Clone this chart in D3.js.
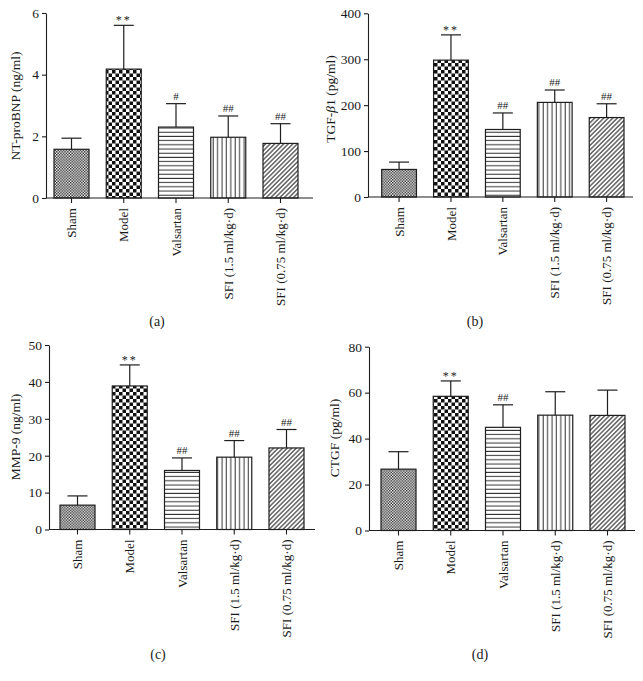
<!DOCTYPE html>
<html>
<head>
<meta charset="utf-8">
<script src="https://cdn.jsdelivr.net/npm/d3@7/dist/d3.min.js"></script>
<style>
  html, body { margin: 0; padding: 0; background: #fff; }
  svg { display: block; }
  text { font-family: "Liberation Serif", "DejaVu Serif", serif; fill: #1a1a1a; }
</style>
</head>
<body>
<svg id="chart" width="643" height="681"></svg>
<script>
// ---------- data ----------
const categories = ["Sham", "Model", "Valsartan", "SFI (1.5 ml/kg·d)", "SFI (0.75 ml/kg·d)"];

const ntproBNP      = [1.58, 4.18, 2.30, 1.97, 1.77];
const ntproBNPErr   = [0.36, 1.42, 0.76, 0.69, 0.64];
const ntproBNPMarks = ["", "**", "#", "##", "##"];
const ntproBNPTicks = [0, 2, 4, 6];

const tgfb1      = [60, 298, 147, 206, 173];
const tgfb1Err   = [16, 55, 36, 27, 30];
const tgfb1Marks = ["", "**", "##", "##", "##"];
const tgfb1Ticks = [0, 100, 200, 300, 400];

const mmp9      = [6.6, 38.9, 16.0, 19.6, 22.1];
const mmp9Err   = [2.5, 5.7, 3.4, 4.5, 5.0];
const mmp9Marks = ["", "**", "##", "##", "##"];
const mmp9Ticks = [0, 10, 20, 30, 40, 50];

const ctgf      = [26.7, 58.4, 44.9, 50.2, 50.1];
const ctgfErr   = [7.6, 6.7, 9.8, 10.2, 11.0];
const ctgfMarks = ["", "**", "##", "", ""];
const ctgfTicks = [0, 20, 40, 60, 80];

// ---------- layout ----------
const panels = [
  { values: ntproBNP, errs: ntproBNPErr, marks: ntproBNPMarks, ticks: ntproBNPTicks,
    title: [["NT-proBNP (ng/ml)", false]], label: "(a)",
    axisX: 46, axisEnd: 313, y0: 198, yTop: 13, barL: 54, barR: 298,
    titleX: 15, titleY: 106, labelX: 157, labelY: 326 },
  { values: tgfb1, errs: tgfb1Err, marks: tgfb1Marks, ticks: tgfb1Ticks,
    title: [["TGF-", false], ["β", true], ["1 (pg/ml)", false]], label: "(b)",
    axisX: 368, axisEnd: 633, y0: 197, yTop: 13.3, barL: 381.7, barR: 624,
    titleX: 330, titleY: 99, labelX: 475, labelY: 326 },
  { values: mmp9, errs: mmp9Err, marks: mmp9Marks, ticks: mmp9Ticks,
    title: [["MMP-9 (ng/ml)", false]], label: "(c)",
    axisX: 49, axisEnd: 315, y0: 529.5, yTop: 345, barL: 60, barR: 304,
    titleX: 15, titleY: 437, labelX: 158, labelY: 659 },
  { values: ctgf, errs: ctgfErr, marks: ctgfMarks, ticks: ctgfTicks,
    title: [["CTGF (pg/ml)", false]], label: "(d)",
    axisX: 369, axisEnd: 635, y0: 530.5, yTop: 346.7, barL: 381, barR: 625,
    titleX: 334, titleY: 438, labelX: 480, labelY: 659 }
];

const svg = d3.select("#chart");
const defs = svg.append("defs");
const INK = "#1e1e1e";

// fine checkerboard
(function () {
  const p = defs.append("pattern").attr("id", "pat0").attr("patternUnits", "userSpaceOnUse")
    .attr("width", 2.8).attr("height", 2.8);
  p.append("rect").attr("width", 2.8).attr("height", 2.8).attr("fill", "#fff");
  p.append("rect").attr("width", 1.4).attr("height", 1.4).attr("fill", "#222");
  p.append("rect").attr("x", 1.4).attr("y", 1.4).attr("width", 1.4).attr("height", 1.4).attr("fill", "#222");
})();
// coarse checkerboard
(function () {
  const s = 3.5;
  const p = defs.append("pattern").attr("id", "pat1").attr("patternUnits", "userSpaceOnUse")
    .attr("width", 2 * s).attr("height", 2 * s);
  p.append("rect").attr("width", 2 * s).attr("height", 2 * s).attr("fill", "#fff");
  p.append("rect").attr("width", s).attr("height", s).attr("fill", "#111");
  p.append("rect").attr("x", s).attr("y", s).attr("width", s).attr("height", s).attr("fill", "#111");
})();
// horizontal lines
(function () {
  const p = defs.append("pattern").attr("id", "pat2").attr("patternUnits", "userSpaceOnUse")
    .attr("width", 8).attr("height", 4.2);
  p.append("rect").attr("width", 8).attr("height", 4.2).attr("fill", "#fff");
  p.append("line").attr("x1", 0).attr("x2", 8).attr("y1", 2).attr("y2", 2)
    .attr("stroke", "#333").attr("stroke-width", 1);
})();
// vertical lines
(function () {
  const p = defs.append("pattern").attr("id", "pat3").attr("patternUnits", "userSpaceOnUse")
    .attr("width", 4.4).attr("height", 8);
  p.append("rect").attr("width", 4.4).attr("height", 8).attr("fill", "#fff");
  p.append("line").attr("y1", 0).attr("y2", 8).attr("x1", 2).attr("x2", 2)
    .attr("stroke", "#333").attr("stroke-width", 1);
})();
// diagonal lines
(function () {
  const p = defs.append("pattern").attr("id", "pat4").attr("patternUnits", "userSpaceOnUse")
    .attr("width", 3.2).attr("height", 3.2).attr("patternTransform", "rotate(45)");
  p.append("rect").attr("width", 3.2).attr("height", 3.2).attr("fill", "#fff");
  p.append("line").attr("x1", 1.6).attr("x2", 1.6).attr("y1", 0).attr("y2", 3.2)
    .attr("stroke", "#2a2a2a").attr("stroke-width", 1.1);
})();

panels.forEach(P => {
  const g = svg.append("g");
  const y = d3.scaleLinear().domain([P.ticks[0], P.ticks[P.ticks.length - 1]]).range([P.y0, P.yTop]);
  const x = d3.scaleBand().domain(categories).range([P.barL, P.barR])
    .paddingInner(0.33).paddingOuter(0);

  // y axis
  const ya = g.append("g").attr("transform", `translate(${P.axisX},0)`)
    .call(d3.axisLeft(y).tickValues(P.ticks).tickSize(4).tickSizeOuter(0).tickPadding(3).tickFormat(d3.format("d")));
  ya.select(".domain").attr("stroke", INK).attr("stroke-width", 1.1);
  ya.selectAll(".tick line").attr("stroke", INK).attr("stroke-width", 1.1);
  ya.selectAll(".tick text").style("font-family", "'Liberation Serif', serif").style("font-size", "13.5px").attr("fill", "#1a1a1a");

  // bars
  g.selectAll("rect.bar").data(P.values).enter().append("rect")
    .attr("class", "bar")
    .attr("x", (d, i) => x(categories[i]))
    .attr("y", d => y(d))
    .attr("width", x.bandwidth())
    .attr("height", d => y(P.ticks[0]) - y(d))
    .attr("fill", (d, i) => `url(#pat${i})`)
    .attr("stroke", INK).attr("stroke-width", 1.2);

  // error bars (upper only)
  const capW = 20;
  P.values.forEach((v, i) => {
    const cx = x(categories[i]) + x.bandwidth() / 2;
    const top = y(v + P.errs[i]);
    g.append("line").attr("x1", cx).attr("x2", cx).attr("y1", y(v)).attr("y2", top)
      .attr("stroke", INK).attr("stroke-width", 1.2);
    g.append("line").attr("x1", cx - capW / 2).attr("x2", cx + capW / 2).attr("y1", top).attr("y2", top)
      .attr("stroke", INK).attr("stroke-width", 1.2);
    if (P.marks[i]) {
      const star = P.marks[i][0] === "*";
      g.append("text").attr("x", cx).attr("y", top - (star ? 1 : 4))
        .attr("text-anchor", "middle")
        .style("font-size", star ? "12px" : "11px")
        .style("letter-spacing", star ? "2px" : "0px")
        .attr("fill", "#222")
        .text(P.marks[i]);
    }
  });

  // x axis
  g.append("line").attr("x1", P.axisX).attr("x2", P.axisEnd).attr("y1", P.y0).attr("y2", P.y0)
    .attr("stroke", INK).attr("stroke-width", 1.1);
  const xa = g.append("g").attr("transform", `translate(0,${P.y0})`)
    .call(d3.axisBottom(x).tickSize(5).tickSizeOuter(0).tickPadding(5));
  xa.select(".domain").remove();
  xa.selectAll(".tick line").attr("stroke", INK).attr("stroke-width", 1.1);
  xa.selectAll(".tick text")
    .style("font-family", "'Liberation Serif', serif").style("font-size", "13px").attr("fill", "#1a1a1a")
    .attr("text-anchor", "end")
    .attr("transform", "rotate(-90)")
    .attr("x", -10).attr("y", 0).attr("dy", "0.35em");

  // y title
  const t = g.append("text")
    .attr("transform", `translate(${P.titleX},${P.titleY}) rotate(-90)`)
    .attr("text-anchor", "middle").attr("dy", "0.35em")
    .style("font-size", "13.5px");
  P.title.forEach(([s, it]) => {
    t.append("tspan").style("font-style", it ? "italic" : "normal").text(s);
  });

  // panel label
  g.append("text").attr("x", P.labelX).attr("y", P.labelY).attr("text-anchor", "middle")
    .style("font-size", "14px").text(P.label);
});
</script>
</body>
</html>
